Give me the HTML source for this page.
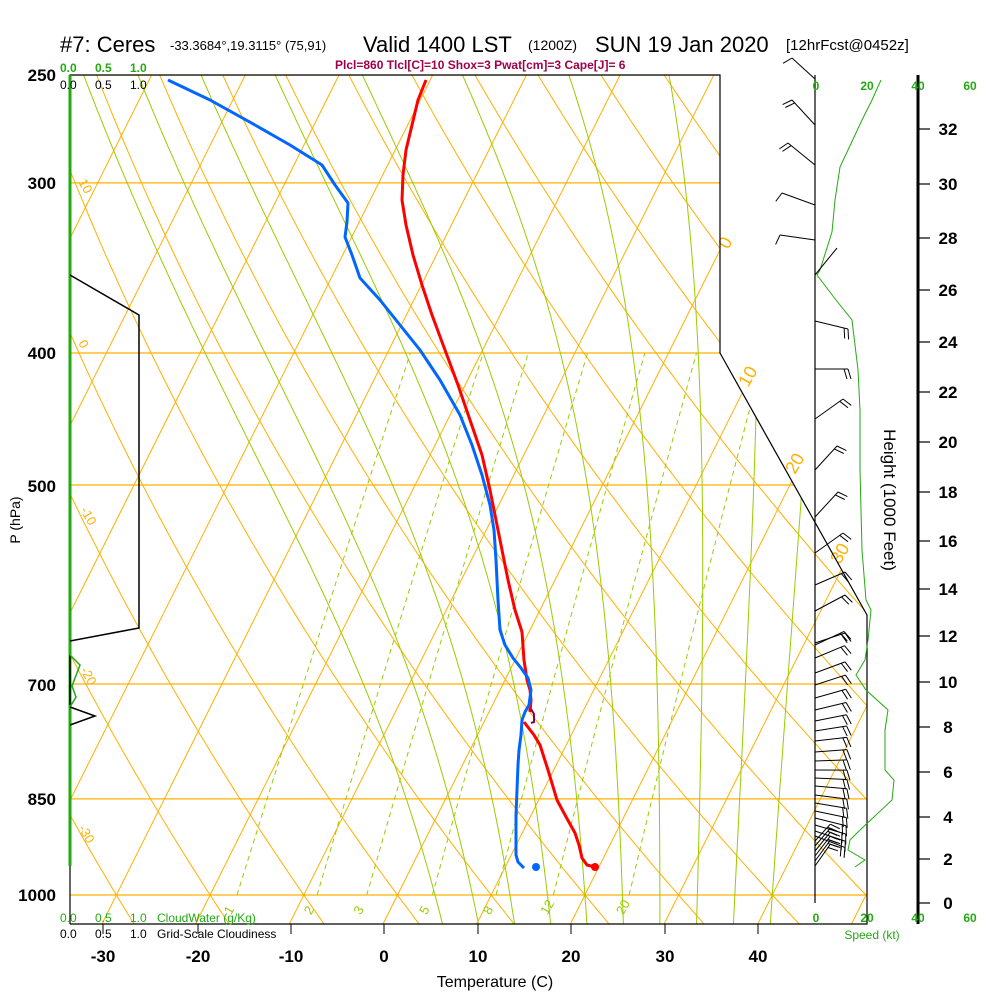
<!DOCTYPE html>
<html><head><meta charset="utf-8"><style>
html,body{margin:0;padding:0;background:#fff;}
svg{display:block;font-family:"Liberation Sans",sans-serif;}
</style></head><body>
<svg id="s" width="1000" height="1000" viewBox="0 0 1000 1000" xmlns="http://www.w3.org/2000/svg">
<defs><clipPath id="cp"><polygon points="70,75 720,75 720,353 867,615 867,924 70,924"/></clipPath></defs>
<g id="grid" clip-path="url(#cp)"></g>
<g id="fg"></g>
<!-- title -->
<text x="60" y="52" font-size="22">#7: Ceres</text>
<text x="170" y="50" font-size="13">-33.3684°,19.3115° (75,91)</text>
<text x="363" y="52" font-size="22">Valid 1400 LST</text>
<text x="528" y="50" font-size="14">(1200Z)</text>
<text x="595" y="52" font-size="22">SUN 19 Jan 2020</text>
<text x="786" y="50" font-size="15">[12hrFcst@0452z]</text>
<text x="335" y="69" font-size="12" font-weight="bold" fill="#a0004a">Plcl=860 Tlcl[C]=10 Shox=3 Pwat[cm]=3 Cape[J]= 6</text>
<!-- pressure labels -->
<g font-size="17" font-weight="bold" text-anchor="end">
<text x="56" y="81">250</text><text x="56" y="189">300</text><text x="56" y="359">400</text>
<text x="56" y="492">500</text><text x="56" y="691">700</text><text x="56" y="805">850</text><text x="56" y="901">1000</text>
</g>
<text transform="translate(20,520) rotate(-90)" font-size="14" text-anchor="middle">P (hPa)</text>
<!-- cloud labels -->
<g font-size="12" font-weight="bold" fill="#22aa11"><text x="60" y="72">0.0</text><text x="95" y="72">0.5</text><text x="130" y="72">1.0</text></g>
<g font-size="12"><text x="60" y="89">0.0</text><text x="95" y="89">0.5</text><text x="130" y="89">1.0</text></g>
<g font-size="12" fill="#22aa11"><text x="60" y="922">0.0</text><text x="95" y="922">0.5</text><text x="130" y="922">1.0</text><text x="157" y="922">CloudWater (g/Kg)</text></g>
<g font-size="12"><text x="60" y="938">0.0</text><text x="95" y="938">0.5</text><text x="130" y="938">1.0</text><text x="157" y="938">Grid-Scale Cloudiness</text></g>
<!-- temp axis -->
<g font-size="17" font-weight="bold" text-anchor="middle">
<text x="103" y="962">-30</text><text x="198" y="962">-20</text><text x="291" y="962">-10</text><text x="384" y="962">0</text>
<text x="478" y="962">10</text><text x="571" y="962">20</text><text x="665" y="962">30</text><text x="758" y="962">40</text>
</g>
<text x="495" y="987" font-size="16" text-anchor="middle">Temperature (C)</text>
<!-- speed axis labels -->
<g font-size="12" font-weight="bold" fill="#22aa11" text-anchor="middle">
<text x="816" y="90">0</text><text x="867" y="90">20</text><text x="918" y="90">40</text><text x="970" y="90">60</text>
<text x="816" y="922">0</text><text x="867" y="922">20</text><text x="918" y="922">40</text><text x="970" y="922">60</text>
</g>
<text x="872" y="939" font-size="12" fill="#22aa11" text-anchor="middle">Speed (kt)</text>
<text transform="translate(884,500) rotate(90)" font-size="17" text-anchor="middle">Height (1000 Feet)</text>
</svg>
<script>
(function(){
var NS="http://www.w3.org/2000/svg";
var grid=document.getElementById('grid'), fg=document.getElementById('fg');
function el(par,tag,a,txt){var e=document.createElementNS(NS,tag);for(var k in a)e.setAttribute(k,a[k]);if(txt!=null)e.textContent=txt;par.appendChild(e);return e;}
function Y(p){return 895-591.5*Math.log(1000/p);}
function X(T,y){return 384+9.37*T+0.5*(922-y);}
function pl(par,pts,a){a.points=pts.map(function(q){return q[0].toFixed(1)+','+q[1].toFixed(1);}).join(' ');a.fill=a.fill||'none';return el(par,'polyline',a);}
var OR='#ffb000', GR='#99cc00';
[250,300,400,500,700,850,1000].forEach(function(p){var y=Y(p);el(grid,'line',{x1:70,y1:y,x2:867,y2:y,stroke:OR,'stroke-width':1.2});});
for(var T=-140;T<=50;T+=10){el(grid,'line',{x1:X(T,924),y1:924,x2:X(T,75),y2:75,stroke:OR,'stroke-width':1});}
for(var th=-60;th<=220;th+=10){var pts=[];for(var p=1060;p>=245;p-=10){var t=(th+273.15)*Math.pow(p/1000,0.2857)-273.15;var y=Y(p);pts.push([X(t,y),y]);}pl(grid,pts,{stroke:OR,'stroke-width':1});}
function es(t){return 6.112*Math.exp(17.67*t/(t+243.5));}
[1,2,3,5,8,12,20].forEach(function(w){var pts=[];for(var p=1000;p>=400;p-=10){var e=w*p/(622+w);var l=Math.log(e/6.112);var t=243.5*l/(17.67-l);var y=Y(p);pts.push([X(t,y),y]);}pl(grid,pts,{stroke:GR,'stroke-width':1,'stroke-dasharray':'5,4'});
 var e=w*1000/(622+w),l=Math.log(e/6.112),t=243.5*l/(17.67-l);el(grid,'text',{x:X(t,910)-4,y:914,'font-size':13,fill:GR,transform:'rotate(-60 '+(X(t,910))+' 910)'},String(w));});
function rs(t,p){var e=es(t);return 0.622*e/(p-e);}
function dTdp(t,p){var T=t+273.15,r=rs(t,p),Lv=2.501e6,Rd=287.04,cp=1005.7;return (Rd*T+Lv*r)/(p*(cp+Lv*Lv*r*0.622/(Rd*T*T)));}
for(var T0=4;T0<=40;T0+=4){var pts=[];var t=T0;for(var p=1000;p>=248;p-=2){var y=Y(p);pts.push([X(t,y),y]);t-=dTdp(t,p)*2;}
 var pts2=[];t=T0;for(var p=1000;p<=1060;p+=2){var y=Y(p);pts2.push([X(t,y),y]);t+=dTdp(t,p)*2;}
 pl(grid,pts2.reverse().concat(pts),{stroke:GR,'stroke-width':1});}
[['10',78,182],['0',78,343],['-10',80,510],['-20',80,670],['-30',78,828]].forEach(function(a){el(fg,'text',{x:a[1],y:a[2],'font-size':13,fill:OR,transform:'rotate(60 '+a[1]+' '+a[2]+')'},a[0]);});
[['0',728,250],['10',748,388],['20',795,475],['30',840,565]].forEach(function(a){el(fg,'text',{x:a[1],y:a[2],'font-size':18,fill:OR,transform:'rotate(-60 '+a[1]+' '+a[2]+')'},a[0]);});
pl(fg,[[70,924],[70,75],[720,75],[720,353],[867,615],[867,924],[70,924]],{stroke:'#000','stroke-width':1.2});
el(fg,'line',{x1:70,y1:75,x2:70,y2:866,stroke:'#22aa11','stroke-width':3});
el(fg,'line',{x1:815,y1:75,x2:815,y2:903,stroke:'#000','stroke-width':1.2});
[103,198,291,384,478,571,665,758].forEach(function(x){el(fg,'line',{x1:x,y1:924,x2:x,y2:934,stroke:'#000','stroke-width':1});});
pl(fg,[[70,275],[139,315],[139,628],[70,641]],{stroke:'#000','stroke-width':1.5});
pl(fg,[[70,655],[70,705]],{stroke:'#000','stroke-width':1.5});
pl(fg,[[70,655],[80,665],[72,686],[76,697],[70,707]],{stroke:'#22aa11','stroke-width':1.5});
pl(fg,[[70,707],[95,716],[70,725]],{stroke:'#000','stroke-width':1.5});
el(fg,'line',{x1:918,y1:75,x2:918,y2:924,stroke:'#000','stroke-width':3});
var H=[[0,903],[2,859],[4,817],[6,772],[8,727],[10,682],[12,636],[14,589],[16,541],[18,492],[20,442],[22,392],[24,342],[26,290],[28,238],[30,184],[32,129]];
H.forEach(function(h){el(fg,'line',{x1:918,y1:h[1],x2:930,y2:h[1],stroke:'#000','stroke-width':1.2});el(fg,'text',{x:948,y:h[1]+6,'font-size':17,'font-weight':'bold','text-anchor':'middle'},String(h[0]));});
pl(fg,[[881,80],[872,100],[862,120],[855,135],[840,167],[835,200],[832,232],[820,270],[817,275],[836,300],[852,320],[858,370],[860,410],[860,470],[862,550],[866,600],[871,610],[868,640],[865,660],[856,675],[866,690],[888,710],[885,730],[885,770],[894,780],[892,800],[860,830],[850,840],[848,850],[865,860],[855,867]],{stroke:'#22aa11','stroke-width':1});
function barb(y,ex,ey,n){el(fg,'line',{x1:815,y1:y,x2:ex,y2:ey,stroke:'#000','stroke-width':1});var dx=ex-815,dy=ey-y,L=Math.sqrt(dx*dx+dy*dy),ux=dx/L,uy=dy/L;
 for(var i=0;i<n;i++){var bx=ex-ux*i*4,by=ey-uy*i*4;var px=-uy,py=ux; if(dx>0){px=uy;py=-ux;} el(fg,'line',{x1:bx,y1:by,x2:bx+ux*3+px*-10,y2:by+uy*3+py*-10,stroke:'#000','stroke-width':1});}}
barb(79,792,58,1);barb(125,792,100,2);barb(165,788,143,2);barb(205,782,193,1);barb(240,780,235,1);barb(275,837,248,0);
barb(321,848,329,2);barb(369,848,369,2);barb(419,843,399,2);barb(470,837,446,2);barb(517,838,492,2);barb(553,843,533,2);barb(585,845,572,2);barb(611,845,595,2);barb(643,845,633,2);
var ys=[645,658,673,685,698,710,721,731,741,752,761,770,778,786,795,803,811,818,825,831,836,841,846,851,856,861,866];
ys.forEach(function(y,i){var a=(-25+i*2.3)*Math.PI/180;var L=32;var ex=815+L*Math.cos(a),ey=y+L*Math.sin(a);if(i>20){ex=815+22*Math.cos(-0.8);ey=y-22*Math.sin(0.8)+(i-20)*-1;}barb(y,ex,ey,2);});
pl(fg,[[426,80],[418,100],[412,125],[406,150],[403,175],[402,200],[406,225],[413,255],[422,285],[432,315],[445,350],[458,385],[470,420],[482,455],[490,490],[496,520],[502,550],[508,580],[515,610],[522,632],[524,660],[527,680],[530,690],[531,700],[530,712]],{stroke:'#ff0000','stroke-width':3,'stroke-linejoin':'round'});
pl(fg,[[524,722],[534,735],[540,745],[548,770],[554,790],[557,800],[565,815],[575,833],[579,845],[582,858],[587,865],[595,867]],{stroke:'#ff0000','stroke-width':3,'stroke-linejoin':'round'});
pl(fg,[[531,709],[534,714],[534,722],[531,723]],{stroke:'#800060','stroke-width':2});
pl(fg,[[168,80],[210,100],[255,125],[290,145],[322,165],[335,185],[348,203],[347,222],[345,237],[352,255],[360,278],[380,300],[400,325],[420,350],[440,380],[460,415],[472,445],[482,475],[490,505],[494,530],[496,560],[498,600],[500,630],[505,645],[513,658],[521,668],[528,678],[531,690],[529,705],[525,712],[522,720],[521,735],[519,750],[518,765],[517,790],[516,815],[516,840],[516,855],[518,862],[524,868]],{stroke:'#0066ff','stroke-width':3,'stroke-linejoin':'round'});
el(fg,'circle',{cx:595,cy:867,r:4,fill:'#ff0000'});
el(fg,'circle',{cx:536,cy:867,r:4,fill:'#0066ff'});
})();
</script>
</body></html>
